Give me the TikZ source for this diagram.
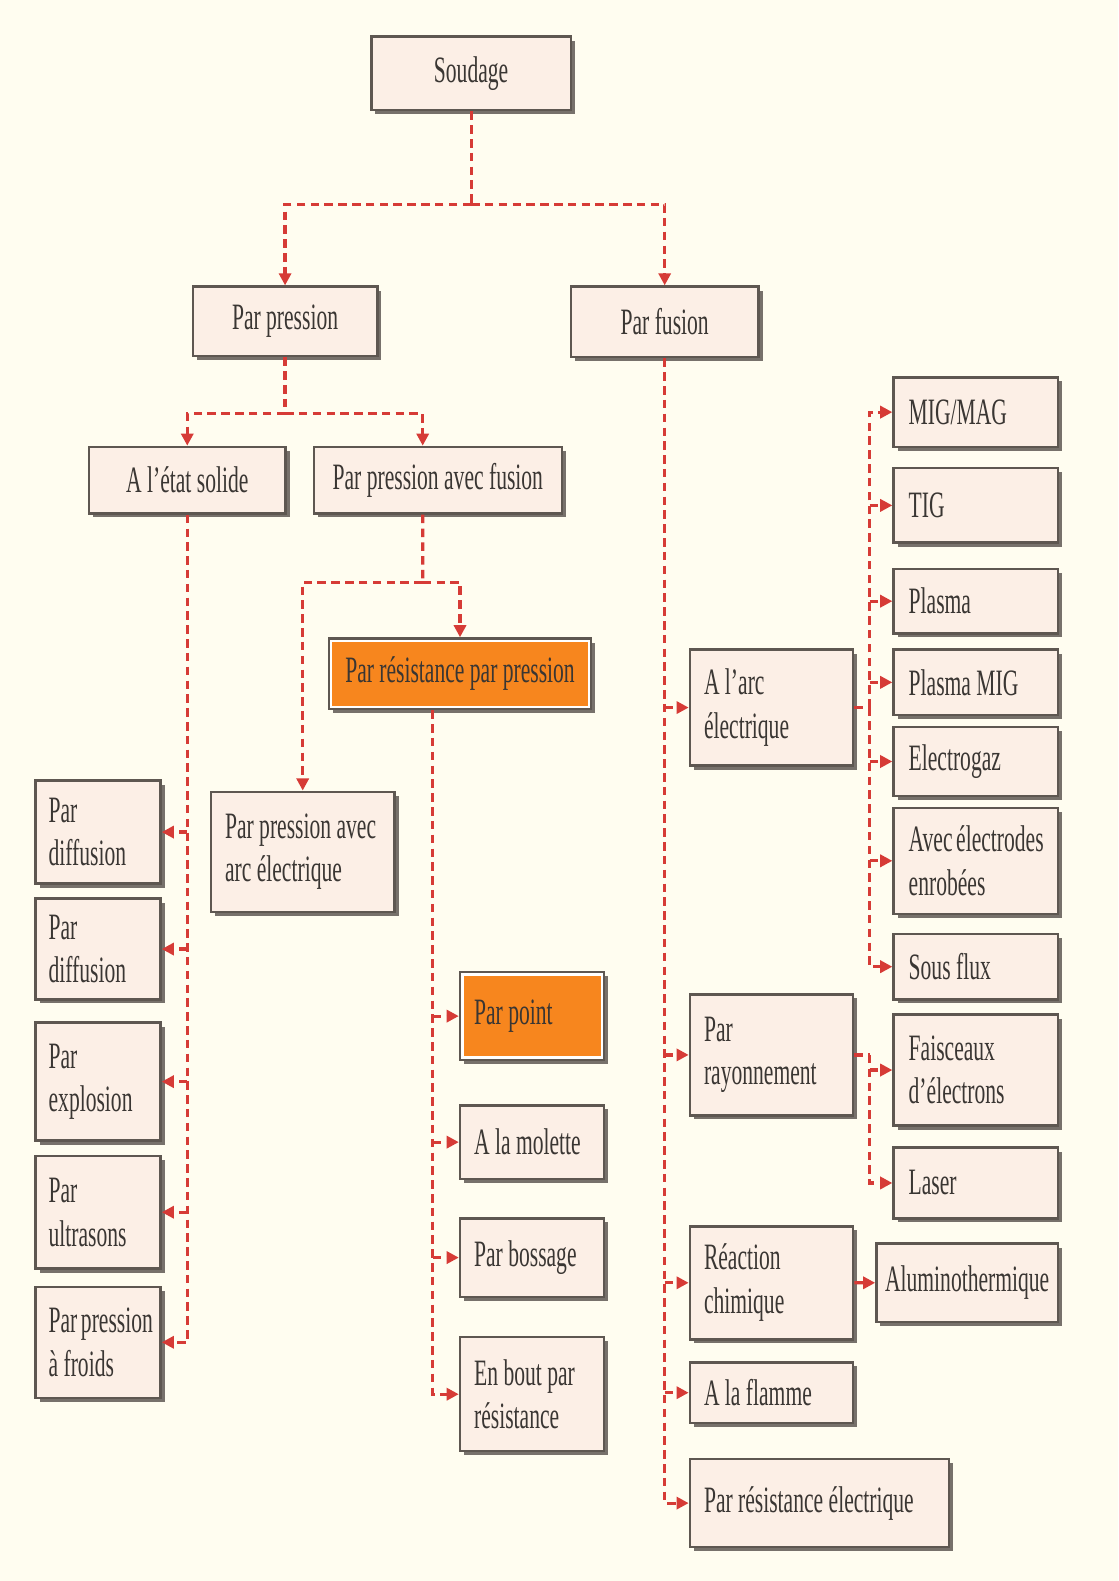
\documentclass[tikz,border=0pt]{standalone}
\usepackage{fontspec}
\setmainfont{Liberation Serif}[FakeStretch=0.58]
\usepackage{tikz}
\usetikzlibrary{arrows.meta, shadows, calc, positioning}
\hyphenpenalty=10000
\exhyphenpenalty=10000

\definecolor{bgcream}{HTML}{FFFDF0}
\definecolor{boxfill}{HTML}{FCEFE6}
\definecolor{boxline}{HTML}{5E5751}
\definecolor{shade}{HTML}{77716B}
\definecolor{linkred}{HTML}{D63B36}
\definecolor{orangefill}{HTML}{F7861E}
\definecolor{inkgray}{HTML}{3A3633}

\tikzset{
  box/.style={draw=boxline, line width=0.7pt, fill=boxfill, inner sep=0pt, anchor=north west,
    drop shadow={shadow xshift=0.4mm, shadow yshift=-0.4mm, fill=shade, opacity=1},
    text=inkgray, font=\fontsize{10.5}{12.3}\selectfont},
  cbox/.style={box, align=center},
  lbox/.style={box, align=flush left},
  hot/.style={fill=white, path picture={\fill[orangefill]
    ([shift={(0.35mm,-0.35mm)}]path picture bounding box.north west) rectangle
    ([shift={(-0.35mm,0.35mm)}]path picture bounding box.south east);}},
  link/.style={draw=linkred, line width=0.9pt, dash pattern=on 2.4pt off 1.5pt,
    -{Triangle[length=1.2mm, width=1.2mm]}},
  wire/.style={link, -},
}

\begin{document}
\begin{tikzpicture}[x=0.1mm, y=-0.1mm]
 \fill[bgcream] (0,0) rectangle (1109,1568);

 % top levels
 \node[cbox, minimum width=19.8mm, minimum height=7.3mm] (soudage) at (367,35) {Soudage};
 \node[cbox, minimum width=18.3mm, minimum height=6.9mm] (pression) at (190,283) {Par pression};
 \node[cbox, minimum width=18.6mm, minimum height=7mm] (fusion) at (565,283) {Par fusion};
 \node[cbox, minimum width=19.5mm, minimum height=6.6mm] (etat) at (87,442) {A l'état solide};
 \node[cbox, minimum width=24.6mm, minimum height=6.6mm] (avecfusion) at (310,442) {Par pression avec fusion};
 \node[cbox, hot, minimum width=26mm, minimum height=7mm] (respression) at (325,632) {Par résistance par pression};
 \node[lbox, minimum width=18.2mm, text width=15.4mm, minimum height=11.9mm] (arcpression) at (208,784) {Par~pression~avec\\arc~électrique};

 % a l'etat solide
 \node[lbox, minimum width=12.4mm, text width=9.8mm, minimum height=10.2mm] (diffa) at (34,773) {Par\\diffusion};
 \node[lbox, minimum width=12.4mm, text width=9.8mm, minimum height=10mm] (diffb) at (34,890) {Par\\diffusion};
 \node[lbox, minimum width=12.4mm, text width=9.8mm, minimum height=11.7mm] (explosion) at (34,1013) {Par\\explosion};
 \node[lbox, minimum width=12.4mm, text width=9.8mm, minimum height=11.2mm] (ultrasons) at (34,1145) {Par\\ultrasons};
 \node[lbox, minimum width=12.4mm, text width=9.8mm, minimum height=11mm] (froids) at (34,1275) {Par~pression\\à~froids};

 % par resistance par pression
 \node[lbox, hot, minimum width=14.3mm, text width=11.5mm, minimum height=8.7mm] (parpoint) at (455,963) {Par point};
 \node[lbox, minimum width=14.3mm, text width=11.5mm, minimum height=7.3mm] (molette) at (455,1095) {A~la~molette};
 \node[lbox, minimum width=14.3mm, text width=11.5mm, minimum height=7.8mm] (bossage) at (455,1207) {Par~bossage};
 \node[lbox, minimum width=14.3mm, text width=11.5mm, minimum height=11.3mm] (enbout) at (455,1325) {En~bout~par\\résistance};

 % par fusion
 \node[lbox, minimum width=16.2mm, text width=13.4mm, minimum height=11.5mm] (arc) at (683,643) {A~l'arc\\électrique};
 \node[lbox, minimum width=16.2mm, text width=13.4mm, minimum height=12mm] (rayonnement) at (683,985) {Par\\rayonnement};
 \node[lbox, minimum width=16.2mm, text width=13.4mm, minimum height=11.2mm] (reaction) at (683,1215) {Réaction\\chimique};
 \node[lbox, minimum width=16.2mm, text width=13.4mm, minimum height=6mm] (flamme) at (683,1350) {A~la~flamme};
 \node[lbox, minimum width=25.7mm, text width=22.9mm, minimum height=8.7mm] (reselec) at (683,1446) {Par~résistance~électrique};

 % arc, rayonnement, reaction
 \node[lbox, minimum width=16.3mm, text width=13.3mm, minimum height=6.9mm] (migmag) at (885,373) {MIG/MAG};
 \node[lbox, minimum width=16.3mm, text width=13.3mm, minimum height=7.4mm] (tig) at (885,463) {TIG};
 \node[lbox, minimum width=16.3mm, text width=13.3mm, minimum height=6.4mm] (plasma) at (885,563) {Plasma};
 \node[lbox, minimum width=16.3mm, text width=13.3mm, minimum height=6.5mm] (plasmamig) at (885,643) {Plasma~MIG};
 \node[lbox, minimum width=16.3mm, text width=13.3mm, minimum height=6.8mm] (electrogaz) at (885,720) {Electrogaz};
 \node[lbox, minimum width=16.3mm, text width=13.3mm, minimum height=10.5mm] (enrobees) at (885,800) {Avec~électrodes\\enrobées};
 \node[lbox, minimum width=16.3mm, text width=13.3mm, minimum height=6.5mm] (sousflux) at (885,925) {Sous~flux};
 \node[lbox, minimum width=16.3mm, text width=13.3mm, minimum height=11mm] (faisceaux) at (885,1005) {Faisceaux\\d'électrons};
 \node[lbox, minimum width=16.3mm, text width=13.3mm, minimum height=7mm] (laser) at (885,1137) {Laser};
 \node[cbox, minimum width=18mm, minimum height=7.8mm] (alumino) at (868,1232) {Aluminothermique};

 % links
 \coordinate (j1) at ($(soudage.south)+(0,92)$);
 \draw[wire] (soudage.south) -- (j1);
 \draw[link] (j1) -| (pression.north);
 \draw[link] (j1) -| (fusion.north);

 \coordinate (j2) at ($(pression.south)+(0,56)$);
 \draw[wire] (pression.south) -- (j2);
 \draw[link] (j2) -| (etat.north);
 \draw[link] (j2) -| ([xshift=-1.5mm]avecfusion.north);

 \coordinate (j3) at ($(avecfusion.south)+(-15,67)$);
 \draw[wire] ([xshift=-1.5mm]avecfusion.south) -- (j3);
 \draw[link] (j3) -| (respression.north);
 \draw[link] (j3) -| (arcpression.north);

 \draw[link] (etat.south) |- (froids.east);
 \foreach \b in {diffa, diffb, explosion, ultrasons}
  \draw[link] (etat.south |- \b.east) -- (\b.east);

 \coordinate (t1) at ([xshift=-2.7mm]respression.south);
 \draw[link] (t1) |- (enbout.west);
 \foreach \b in {parpoint, molette, bossage}
  \draw[link] (t1 |- \b.west) -- (\b.west);

 \draw[link] (fusion.south) |- (reselec.west);
 \foreach \b in {arc, rayonnement, reaction, flamme}
  \draw[link] (fusion.south |- \b.west) -- (\b.west);

 \coordinate (t3) at ([xshift=1.5mm]arc.east);
 \draw[wire] (arc.east) -- (t3);
 \draw[link] (t3) |- (migmag.west);
 \draw[link] (t3) |- (sousflux.west);
 \foreach \b in {tig, plasma, plasmamig, electrogaz, enrobees}
  \draw[link] (t3 |- \b.west) -- (\b.west);

 \coordinate (t4) at ([xshift=1.5mm]rayonnement.east);
 \draw[wire] (rayonnement.east) -- (t4);
 \draw[link] (t4) |- (laser.west);
 \draw[link] (t4 |- faisceaux.west) -- (faisceaux.west);

 \draw[link] (reaction.east) -- (alumino.west);
\end{tikzpicture}
\end{document}
